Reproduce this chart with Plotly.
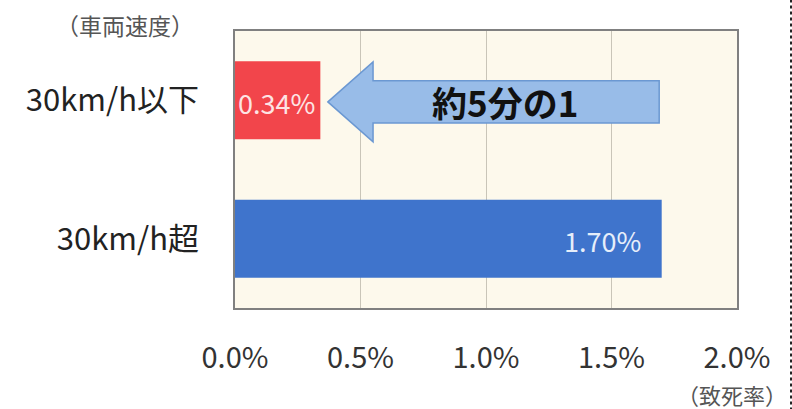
import plotly.graph_objects as go

# Fatality rate by vehicle speed
categories = ["30km/h以下", "30km/h超"]
fatality_rate = [0.34, 1.70]          # percent
value_labels = ["0.34%", "1.70%"]
x_tick_vals = [0.0, 0.5, 1.0, 1.5, 2.0]
x_tick_text = ["0.0%", "0.5%", "1.0%", "1.5%", "2.0%"]
arrow_label = "約5分の1"
y_title = "（車両速度）"
x_title = "（致死率）"

bar_colors = ["#f2454b", "#3f74cc"]
label_colors = ["#fde4e4", "#e6eefa"]
label_shift = [-3, -19]

JP = "Noto Sans CJK JP"

fig = go.Figure()
fig.add_trace(go.Bar(
    y=categories,
    x=fatality_rate,
    orientation="h",
    marker=dict(color=bar_colors, line=dict(width=0)),
    hoverinfo="skip",
))

# value labels inside the bar ends
for cat, val, txt, col, sh in zip(categories, fatality_rate, value_labels, label_colors, label_shift):
    fig.add_annotation(
        x=val, y=cat, xref="x", yref="y",
        text=txt, showarrow=False,
        xanchor="right", yanchor="middle", xshift=sh, yshift=-2,
        font=dict(family=JP, size=27, color=col),
    )

# arrow pointing from the high rate back to the low rate
tip_x = fatality_rate[0] + 0.03
head_x = 0.55
tail_x = fatality_rate[1] - 0.01
yc, yh, ys = 0.744, 0.144, 0.076
path = (
    f"M {tip_x},{yc} L {head_x},{yc + yh} L {head_x},{yc + ys} "
    f"L {tail_x},{yc + ys} L {tail_x},{yc - ys} L {head_x},{yc - ys} "
    f"L {head_x},{yc - yh} Z"
)
fig.add_shape(
    type="path", path=path, xref="x", yref="paper",
    fillcolor="#98bce8", line=dict(color="#6b98d2", width=1.5), layer="above",
)
fig.add_annotation(
    x=0.538, y=0.744, xref="paper", yref="paper",
    text=f"<b>{arrow_label}</b>", showarrow=False,
    xanchor="center", yanchor="middle",
    font=dict(family=JP, size=35, color="#111111"),
)

# axis titles
fig.add_annotation(
    x=-0.219, y=1.022, xref="paper", yref="paper", text=y_title,
    showarrow=False, xanchor="center", yanchor="middle",
    font=dict(family=JP, size=23, color="#555555"),
)
fig.add_annotation(
    x=0.99, y=-0.312, xref="paper", yref="paper", text=x_title,
    showarrow=False, xanchor="center", yanchor="middle",
    font=dict(family=JP, size=22, color="#555555"),
)

# dotted frame line on the right
fig.add_shape(
    type="line", xref="paper", yref="paper",
    x0=1.1076, x1=1.1076, y0=-0.37, y1=1.12,
    line=dict(color="#222222", width=2, dash="dot"),
)

fig.update_layout(
    width=792, height=409,
    margin=dict(l=235, r=55, t=31, b=101),
    paper_bgcolor="white",
    plot_bgcolor="#fdf9ec",
    bargap=0.437,
    showlegend=False,
)
fig.update_xaxes(
    range=[0, 2.0],
    tickvals=x_tick_vals, ticktext=x_tick_text,
    showgrid=True, gridcolor="#c9c5b8", gridwidth=1,
    showline=True, linecolor="#808080", linewidth=1.5, mirror=True,
    zeroline=False, ticks="",
    ticklabelstandoff=23,
    tickfont=dict(family=JP, size=29, color="#333333"),
)
fig.update_yaxes(
    autorange="reversed",
    showgrid=False,
    showline=True, linecolor="#808080", linewidth=1.5, mirror=True,
    ticks="",
    ticklabelstandoff=28,
    tickfont=dict(family=JP, size=31, color="#222222"),
)

fig.write_html("out.html")
